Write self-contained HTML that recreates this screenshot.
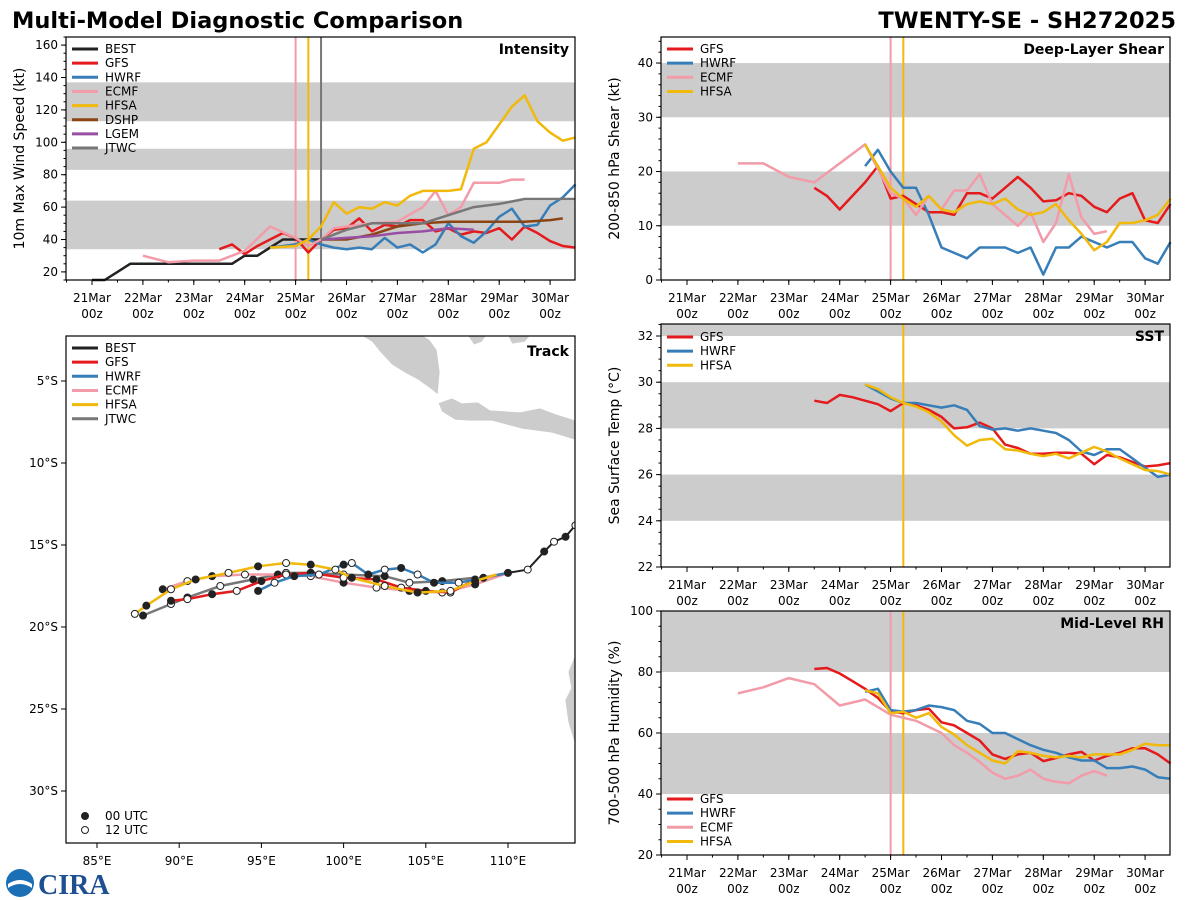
<!DOCTYPE html>
<html><head><meta charset="utf-8"><style>
body{margin:0;background:#fff;font-family:"Liberation Sans","DejaVu Sans",sans-serif}
svg{display:block}
</style></head><body>
<svg id="c" width="1200" height="900" xmlns="http://www.w3.org/2000/svg" font-family="DejaVu Sans, Liberation Sans, sans-serif">
<text x="12" y="28" font-size="22.5" font-weight="bold">Multi-Model Diagnostic Comparison</text>
<text x="1176" y="28" font-size="22.5" font-weight="bold" text-anchor="end">TWENTY-SE - SH272025</text>
<g>
<circle cx="20" cy="883" r="14" fill="#1a6fb5"/><path d="M8 884 Q20 876 32 884 L32 888 Q20 880 8 888Z" fill="#fff"/>
<text x="38" y="894" font-size="28" font-weight="bold" fill="#1d4f91" font-family="Liberation Serif, serif">CIRA</text>
</g>
</svg>
<script>
// ---------- DATA ----------
const dayLabels=["21Mar","22Mar","23Mar","24Mar","25Mar","26Mar","27Mar","28Mar","29Mar","30Mar"];
// Intensity (kt) — time in days from 21Mar 00z
const intBestT=[0,0.25,0.5,0.75,1,1.25,1.5,1.75,2,2.25,2.5,2.75,3,3.25,3.5,3.75,4,4.25,4.5];
const intBestV=[15,15,20,25,25,25,25,25,25,25,25,25,30,30,35,40,40,40,40];
const intGfsT=[2.5,2.75,3,3.25,3.5,3.75,4,4.25,4.5,4.75,5,5.25,5.5,5.75,6,6.25,6.5,6.75,7,7.25,7.5,7.75,8,8.25,8.5,8.75,9,9.25,9.5];
const intGfsV=[34,37,31,36,40,44,41,32,40,46,47,53,45,49,48,52,52,45,47,43,45,44,47,40,48,44,39,36,35];
const intHwrfT=[3.5,3.75,4,4.25,4.5,4.75,5,5.25,5.5,5.75,6,6.25,6.5,6.75,7,7.25,7.5,7.75,8,8.25,8.5,8.75,9,9.25,9.5];
const intHwrfV=[35,36,37,40,37,35,34,35,34,41,35,37,32,37,50,42,38,45,54,59,48,49,61,66,74];
const intEcmfT=[1,1.5,2,2.5,3,3.5,4,4.25,4.5,4.75,5,5.5,6,6.5,6.75,7,7.25,7.5,8,8.25,8.5];
const intEcmfV=[30,26,27,27,33,48,41,36,40,47,48,50,51,60,70,55,60,75,75,77,77];
const intHfsaT=[3.5,4,4.25,4.5,4.75,5,5.25,5.5,5.75,6,6.25,6.5,7,7.25,7.5,7.75,8,8.25,8.5,8.75,9,9.25,9.5];
const intHfsaV=[35,36,40,48,63,56,60,59,63,61,67,70,70,71,96,100,111,122,129,113,106,101,103];
const intDshpT=[4.5,5,5.5,6,6.5,7,7.5,8,8.5,9,9.25];
const intDshpV=[40,40,43,48,50,51,51,51,51,52,53];
const intLgemT=[4.5,5,5.5,6,6.5,7,7.5];
const intLgemV=[40,41,42,44,45,47,46];
const intJtwcT=[4.5,5,5.5,6,6.5,7,7.5,8,8.5,9,9.5];
const intJtwcV=[40,46,50,50,50,55,60,62,65,65,65];
// Shear (kt)
const shrGfsT=[2.5,2.75,3,3.25,3.5,3.75,4,4.25,4.5,4.75,5,5.25,5.5,5.75,6,6.25,6.5,6.75,7,7.25,7.5,7.75,8,8.25,8.5,8.75,9,9.25,9.5];
const shrGfsV=[17,15.5,13,15.5,18,21,15,15.5,14,12.5,12.5,12,16,16,15,17,19,17,14.5,14.7,16,15.5,13.5,12.5,15,16,11,10.5,14];
const shrHwrfT=[3.5,3.75,4,4.25,4.5,4.75,5,5.25,5.5,5.75,6,6.25,6.5,6.75,7,7.25,7.5,7.75,8,8.25,8.5,8.75,9,9.25,9.5];
const shrHwrfV=[21,24,20,17,17,12,6,5,4,6,6,6,5,6,1,6,6,8,7,6,7,7,4,3,7];
const shrEcmfT=[1,1.5,2,2.5,3,3.5,4,4.25,4.5,4.75,5,5.25,5.5,5.75,6,6.5,6.75,7,7.25,7.5,7.75,8,8.25];
const shrEcmfV=[21.5,21.5,19,18,21.5,25,16,15,12,15.5,13,16.5,16.5,19.5,14,10,12.5,7,10.5,19.5,11.5,8.5,9];
const shrHfsaT=[3.5,3.75,4,4.25,4.5,4.75,5,5.25,5.5,5.75,6,6.25,6.5,6.75,7,7.25,7.5,7.75,8,8.25,8.5,8.75,9,9.25,9.5];
const shrHfsaV=[25,21,17,15,13.5,15.5,13,12.5,14,14.5,14,15,13,12,12.5,14,11,8.5,5.5,7,10.5,10.5,11,12,15];
// SST (°C)
const sstGfsT=shrGfsT;
const sstGfsV=[29.2,29.1,29.45,29.35,29.2,29.05,28.75,29.1,29.0,28.8,28.5,28.0,28.05,28.25,28.0,27.3,27.15,26.9,26.9,26.95,26.95,26.9,26.45,26.85,26.75,26.55,26.35,26.4,26.5];
const sstHwrfT=shrHwrfT;
const sstHwrfV=[29.9,29.6,29.3,29.1,29.1,29.0,28.9,29.0,28.8,28.1,27.95,28.0,27.9,28.0,27.9,27.8,27.5,27.0,26.85,27.1,27.1,26.7,26.3,25.9,26.0];
const sstHfsaT=shrHfsaT;
const sstHfsaV=[29.9,29.7,29.35,29.1,28.95,28.7,28.3,27.7,27.25,27.5,27.55,27.1,27.05,26.9,26.8,26.9,26.7,26.95,27.2,27.0,26.7,26.45,26.2,26.15,26.0];
// Mid-level RH (%)
const rhGfsT=shrGfsT;
const rhGfsV=[81,81.3,79.5,77,74.5,71.5,67,66.5,67.5,68,63.5,62.5,60,57.5,53,51.5,53,53.5,50.8,51.8,53,53.8,51,52.5,53.5,55,55,53,50];
const rhHwrfT=shrHwrfT;
const rhHwrfV=[73.5,74.5,67.5,67,67.5,69,68.5,67.5,64,63,60,60,58,56,54.5,53.5,52,51,51,48.5,48.5,49,48,45.5,45];
const rhEcmfT=[1,1.5,2,2.5,3,3.5,4,4.5,5,5.25,5.5,5.75,6,6.25,6.5,6.75,7,7.25,7.5,7.75,8,8.25];
const rhEcmfV=[73,75,78,76,69,71,66,64,60,56,53.5,50.5,47,45,46,48,45,44,43.5,46,47.5,46];
const rhHfsaT=shrHfsaT;
const rhHfsaV=[74,73,66.5,67,65,66.5,62,59.5,56,53.5,51,50,54,53.5,52.5,52,52.5,52,53,53,53,54.5,56.5,56,56];
// Tracks (lon °E, lat °)
const trkBestLon=[114.1,113.5,112.8,112.2,111.2,110.0];
const trkBestLat=[-13.8,-14.5,-14.8,-15.4,-16.5,-16.7];
const trkGfsLon=[110,108,106.5,105,103.5,102,100,98,96.5,95,93.5,92,90.5,89.5];
const trkGfsLat=[-16.7,-17.1,-17.9,-17.8,-17.6,-17.1,-17.0,-16.7,-16.8,-17.2,-17.8,-18.0,-18.3,-18.4];
const trkHwrfLon=[110,108.5,107,105.5,104.5,103.5,102.5,101.5,100.5,100,98.5,97,95.8,94.8];
const trkHwrfLat=[-16.7,-17.0,-17.3,-17.3,-16.8,-16.4,-16.5,-16.8,-16.1,-16.2,-16.8,-16.9,-17.3,-17.8];
const trkEcmfLon=[110,108,106,104,102,100,98,96,94,92,90.5,89];
const trkEcmfLat=[-16.7,-17.4,-17.9,-17.8,-17.6,-17.3,-16.9,-16.8,-16.8,-16.9,-17.2,-17.7];
const trkHfsaLon=[109.3,108,106.5,104.5,102.5,100.5,99.5,98,96.5,94.8,93,91,89.5,88,87.3];
const trkHfsaLat=[-16.8,-17.2,-17.8,-17.9,-17.5,-17.0,-16.5,-16.2,-16.1,-16.3,-16.7,-17.1,-17.7,-18.7,-19.2];
const trkJtwcLon=[108,106,104,102.5,100,98,96.5,94.5,92.5,90.5,89.5,87.8];
const trkJtwcLat=[-17.0,-17.2,-17.3,-16.9,-16.8,-16.7,-16.7,-17.1,-17.5,-18.2,-18.6,-19.3];

const COL={BEST:"#222",GFS:"#e41a1c",HWRF:"#377eb8",ECMF:"#f29ba9",HFSA:"#f0b90b",DSHP:"#8b4513",LGEM:"#984ea3",JTWC:"#777"};
const NS="http://www.w3.org/2000/svg";
const svg=document.getElementById('c');
function mk(tag,attrs,parent){const e=document.createElementNS(NS,tag);for(const k in attrs)e.setAttribute(k,attrs[k]);(parent||svg).appendChild(e);return e;}

function panel(cfg){
  const g=mk('g',{});
  
  
  const {x0,x1,y0,y1,ymin,ymax}=cfg;
  const xs=d=>x0+26+(d)*50.9*(x1-x0)/509;
  const ys=v=>y1-(v-ymin)/(ymax-ymin)*(y1-y0);
  cfg.bands.forEach(b=>{const r=mk('rect',{x:x0,y:ys(Math.min(b[1],ymax)),width:x1-x0,height:ys(b[0])-ys(Math.min(b[1],ymax)),fill:"#cccccc"},g);
    });
  cfg.vlines.forEach(v=>{const l=mk('line',{x1:xs(v[0]),x2:xs(v[0]),y1:y0,y2:y1,stroke:v[1],'stroke-width':2},g);
    });
  cfg.series.forEach(s=>{
    const pts=s.t.map((t,i)=>xs(t).toFixed(1)+','+ys(s.v[i]).toFixed(1)).join(' ');
    const p=mk('polyline',{points:pts,fill:'none',stroke:COL[s.n],'stroke-width':2.5,'stroke-linejoin':'round'},g);
    
    
  });
  const f=mk('rect',{x:x0,y:y0,width:x1-x0,height:y1-y0,fill:'none',stroke:'#000','stroke-width':1.2},g);
  
  cfg.yt.forEach(v=>{const y=ys(v);mk('line',{x1:x0-5,x2:x0,y1:y,y2:y,stroke:'#000'},g);
    const t=mk('text',{x:x0-8,y:y+4,'font-size':12,'text-anchor':'end'},g);t.textContent=v;
    });
  for(let v=ymin;v<=ymax;v+=cfg.ym){const y=ys(v);mk('line',{x1:x0-2.5,x2:x0,y1:y,y2:y,stroke:'#000'},g);}
  dayLabels.forEach((d,i)=>{const x=xs(i);mk('line',{x1:x,x2:x,y1:y1,y2:y1+5,stroke:'#000'},g);
    const t=mk('text',{x:x,y:y1+22,'font-size':12,'text-anchor':'middle'},g);t.textContent=d;
    
    const t2=mk('text',{x:x,y:y1+38,'font-size':12,'text-anchor':'middle'},g);t2.textContent='00z';
    });
  for(let d=-0.5;d<=9.5;d+=0.5){const x=xs(d);if(x>=x0&&x<=x1)mk('line',{x1:x,x2:x,y1:y1,y2:y1+2.5,stroke:'#000'},g);}
  const yl=mk('text',{x:0,y:0,'font-size':14,'text-anchor':'middle',transform:`translate(${x0-42},${(y0+y1)/2}) rotate(-90)`},g);
  yl.textContent=cfg.ylabel;
  const tt=mk('text',{x:x1-6,y:y0+17,'font-size':14,'font-weight':'bold','text-anchor':'end'},g);
  tt.textContent=cfg.title;
  legend(g,cfg.legendY,cfg.series.map(s=>s.n),x0);
}
function legend(g,ly,names,x0){
  names.forEach((n,i)=>{const y=ly+i*14.15;
    const e=mk('g',{},g);
    mk('line',{x1:x0+6,x2:x0+32,y1:y,y2:y,stroke:COL[n],'stroke-width':3},e);
    const t=mk('text',{x:x0+39,y:y+4,'font-size':12},e);t.textContent=n;});
}
const intSeries=[{n:'BEST',t:intBestT,v:intBestV},{n:'GFS',t:intGfsT,v:intGfsV},{n:'HWRF',t:intHwrfT,v:intHwrfV},{n:'ECMF',t:intEcmfT,v:intEcmfV},{n:'HFSA',t:intHfsaT,v:intHfsaV},{n:'DSHP',t:intDshpT,v:intDshpV},{n:'LGEM',t:intLgemT,v:intLgemV},{n:'JTWC',t:intJtwcT,v:intJtwcV}];
panel({name:'intensity-panel',x0:66,x1:575,y0:37,y1:280,ymin:15,ymax:165,yt:[20,40,60,80,100,120,140,160],ym:5,
  bands:[[34,64],[83,96],[113,137]],vlines:[[4,COL.ECMF],[4.25,COL.HFSA],[4.5,COL.JTWC]],
  series:intSeries,ylabel:'10m Max Wind Speed (kt)',title:'Intensity',legendY:49});
panel({name:'shear-panel',x0:661,x1:1170,y0:37,y1:280,ymin:0,ymax:44.8,yt:[0,10,20,30,40],ym:2,
  bands:[[10,20],[30,40]],vlines:[[4,COL.ECMF],[4.25,COL.HFSA]],
  series:[{n:'GFS',t:shrGfsT,v:shrGfsV},{n:'HWRF',t:shrHwrfT,v:shrHwrfV},{n:'ECMF',t:shrEcmfT,v:shrEcmfV},{n:'HFSA',t:shrHfsaT,v:shrHfsaV}],
  ylabel:'200-850 hPa Shear (kt)',title:'Deep-Layer Shear',legendY:49});
panel({name:'sst-panel',x0:661,x1:1170,y0:324,y1:567,ymin:22,ymax:32.52,yt:[22,24,26,28,30,32],ym:0.5,
  bands:[[24,26],[28,30],[32,34]],vlines:[[4.25,COL.HFSA]],
  series:[{n:'GFS',t:sstGfsT,v:sstGfsV},{n:'HWRF',t:sstHwrfT,v:sstHwrfV},{n:'HFSA',t:sstHfsaT,v:sstHfsaV}],
  ylabel:'Sea Surface Temp (°C)',title:'SST',legendY:337});
panel({name:'rh-panel',x0:661,x1:1170,y0:611,y1:855,ymin:20,ymax:100,yt:[20,40,60,80,100],ym:5,
  bands:[[40,60],[80,100]],vlines:[[4,COL.ECMF],[4.25,COL.HFSA]],
  series:[{n:'GFS',t:rhGfsT,v:rhGfsV},{n:'HWRF',t:rhHwrfT,v:rhHwrfV},{n:'ECMF',t:rhEcmfT,v:rhEcmfV},{n:'HFSA',t:rhHfsaT,v:rhHfsaV}],
  ylabel:'700-500 hPa Humidity (%)',title:'Mid-Level RH',legendY:799});

// ---------- Track map ----------
(function(){
  const X0=66,X1=575,Y0=336,Y1=843;
  const lx=lon=>97+(lon-85)*16.44, ly=lat=>381+(-lat-5)*16.4;
  const g=mk('g',{});
  const clip=mk('clipPath',{id:'tc'},g);
  mk('rect',{x:X0,y:Y0,width:X1-X0,height:Y1-Y0},clip);
  const land=mk('g',{'clip-path':'url(#tc)',fill:'#cccccc',stroke:'#fff','stroke-width':0.8},g);
  
  mk('polygon',{points:'362,336 372,342 380,352 392,365 405,373 418,380 432,390 438,395 440,372 437,350 430,340 424,336'},land);
  mk('polygon',{points:'438,403 452,398 462,403 478,402 490,410 520,412 540,408 556,414 575,420 575,440 552,433 522,429 492,421 470,421 455,420 442,412'},land);
  mk('polygon',{points:'468,336 474,345 482,342 486,336'},land);
  mk('polygon',{points:'508,336 512,344 525,342 530,336'},land);
  mk('polygon',{points:'575,655 568,672 571,688 565,700 568,722 575,745'},land);
  const tracks=[['JTWC',trkJtwcLon,trkJtwcLat],['ECMF',trkEcmfLon,trkEcmfLat],['GFS',trkGfsLon,trkGfsLat],['HWRF',trkHwrfLon,trkHwrfLat],['HFSA',trkHfsaLon,trkHfsaLat],['BEST',trkBestLon,trkBestLat]];
  const tg=mk('g',{'clip-path':'url(#tc)'},g);
  tracks.forEach(([n,lo,la])=>{
    const p=mk('polyline',{points:lo.map((v,i)=>lx(v).toFixed(1)+','+ly(la[i]).toFixed(1)).join(' '),fill:'none',stroke:COL[n],'stroke-width':n==='BEST'?2:2.5},tg);
    
    
    lo.forEach((v,i)=>{if(i===0&&n!=='BEST')return;
      const c=mk('circle',{cx:lx(v),cy:ly(la[i]),r:3.5,fill:i%2?'#222':'#fff',stroke:'#222','stroke-width':1},tg);
      });
  });
  const f=mk('rect',{x:X0,y:Y0,width:X1-X0,height:Y1-Y0,fill:'none',stroke:'#000','stroke-width':1.2},g);
  
  [85,90,95,100,105,110].forEach(v=>{const x=lx(v);mk('line',{x1:x,x2:x,y1:Y1,y2:Y1+5,stroke:'#000'},g);
    const t=mk('text',{x:x,y:Y1+22,'font-size':12,'text-anchor':'middle'},g);t.textContent=v+'°E';
    });
  [5,10,15,20,25,30].forEach(v=>{const y=ly(-v);mk('line',{x1:X0-5,x2:X0,y1:y,y2:y,stroke:'#000'},g);
    const t=mk('text',{x:X0-8,y:y+4,'font-size':12,'text-anchor':'end'},g);t.textContent=v+'°S';
    });
  const tt=mk('text',{x:X1-6,y:Y0+20,'font-size':14,'font-weight':'bold','text-anchor':'end'},g);tt.textContent='Track';
  
  legend(g,348,['BEST','GFS','HWRF','ECMF','HFSA','JTWC'],X0);
  [['00 UTC','#222',816],['12 UTC','#fff',830]].forEach(([s,fc,y])=>{const e=mk('g',{},g);
    
    mk('circle',{cx:85,cy:y,r:3.5,fill:fc,stroke:'#222'},e);
    const t=mk('text',{x:105,y:y+4,'font-size':12},e);t.textContent=s;});
})();
</script>
</body></html>
